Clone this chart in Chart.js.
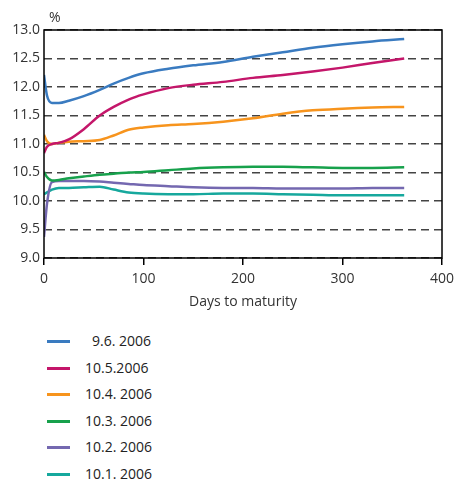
<!DOCTYPE html>
<html>
<head>
<meta charset="utf-8">
<script src="https://cdn.jsdelivr.net/npm/chart.js@4"></script>
<style>
  body { margin: 0; background: #fff; font-family: "Open Sans", sans-serif; }
  #wrap { position: relative; width: 454px; height: 310px; }
  #legend { position: absolute; left: 0; top: 328px; width: 454px; }
  .row { position: relative; height: 26.6px; }
  .row span.sw { position: absolute; left: 47px; top: 12px; width: 23px; height: 3px; }
  .row span.tx { position: absolute; left: 85px; top: 3px; font-size: 14px; color: #222; }
</style>
</head>
<body>
<div id="wrap"><canvas id="chart"></canvas></div>
<div id="legend"></div>
<script>
const days = [0, 3, 8, 15, 25, 40, 56, 70, 85, 100, 125, 150, 180, 210, 240, 270, 300, 330, 362];

const dates = ['9.6. 2006', '10.5.2006', '10.4. 2006', '10.3. 2006', '10.2. 2006', '10.1. 2006'];
const colors = ['#3a7bc0', '#c4166a', '#f7941d', '#17a14c', '#7468b0', '#16a89d'];

const jun = [12.21, 11.85, 11.72, 11.72, 11.76, 11.84, 11.95, 12.06, 12.16, 12.24, 12.32, 12.38, 12.44, 12.53, 12.61, 12.69, 12.75, 12.80, 12.84];
const may = [10.84, 10.95, 11.00, 11.02, 11.08, 11.26, 11.50, 11.65, 11.78, 11.87, 11.98, 12.04, 12.09, 12.16, 12.21, 12.27, 12.34, 12.42, 12.50];
const apr = [11.16, 11.05, 11.00, 11.02, 11.04, 11.05, 11.07, 11.15, 11.25, 11.29, 11.33, 11.35, 11.39, 11.45, 11.53, 11.59, 11.62, 11.64, 11.65];
const mar = [10.51, 10.42, 10.36, 10.37, 10.40, 10.43, 10.46, 10.48, 10.50, 10.51, 10.54, 10.57, 10.59, 10.60, 10.60, 10.59, 10.58, 10.58, 10.59];
const feb = [9.37, 9.95, 10.33, 10.35, 10.35, 10.35, 10.34, 10.32, 10.30, 10.28, 10.26, 10.24, 10.23, 10.23, 10.22, 10.22, 10.22, 10.23, 10.23];
const jan = [10.12, 10.15, 10.20, 10.23, 10.23, 10.24, 10.25, 10.20, 10.15, 10.13, 10.12, 10.12, 10.13, 10.13, 10.12, 10.11, 10.10, 10.10, 10.10];

const series = [jun, may, apr, mar, feb, jan];

// frame round the plot + the % unit label
const framePlugin = {
  id: 'frame',
  afterDraw(chart) {
    const { ctx, chartArea: a } = chart;
    ctx.save();
    ctx.strokeStyle = '#000';
    ctx.lineWidth = 1.5;
    ctx.strokeRect(a.left, a.top, a.right - a.left, a.bottom - a.top);
    ctx.fillStyle = '#333';
    ctx.font = '14px "Open Sans"';
    ctx.textAlign = 'left';
    ctx.textBaseline = 'alphabetic';
    ctx.fillText('%', a.left + 5, a.top - 8);
    ctx.restore();
  }
};

const chart = new Chart(document.getElementById('chart'), {
  type: 'line',
  data: {
    datasets: series.map((vals, i) => ({
      label: dates[i],
      data: vals.map((v, j) => ({ x: days[j], y: v })),
      borderColor: colors[i],
      backgroundColor: colors[i],
      borderWidth: 2.5,
      pointRadius: 0,
      cubicInterpolationMode: 'monotone',
      fill: false
    }))
  },
  options: {
    responsive: true,
    maintainAspectRatio: false,
    animation: false,
    layout: { padding: { top: 30, right: 0, left: 0, bottom: 0 } },
    plugins: {
      legend: { display: false },
      tooltip: { enabled: false }
    },
    scales: {
      x: {
        type: 'linear',
        min: 0,
        max: 400,
        afterFit(scale) { scale.height = 52; scale.paddingRight = 12; },
        ticks: {
          stepSize: 100,
          color: '#333',
          font: { size: 14, family: 'Open Sans' },
          padding: 6,
          maxRotation: 0
        },
        grid: {
          display: true,
          drawOnChartArea: false,
          drawTicks: true,
          tickLength: 7,
          color: '#000',
          lineWidth: 1.5
        },
        border: { display: false },
        title: {
          display: true,
          text: 'Days to maturity',
          color: '#333',
          font: { size: 14, family: 'Open Sans' },
          padding: { top: 0, bottom: 0 }
        }
      },
      y: {
        min: 9,
        max: 13,
        afterFit(scale) { scale.width = 44; },
        ticks: {
          stepSize: 0.5,
          color: '#333',
          font: { size: 14, family: 'Open Sans' },
          padding: 4,
          callback: (v) => v.toFixed(1)
        },
        grid: {
          drawTicks: false,
          color: '#444',
          lineWidth: 1.5
        },
        border: { display: false, dash: [8, 5] }
      }
    }
  },
  plugins: [framePlugin]
});

// legend as a vertical list under the chart
const legend = document.getElementById('legend');
dates.forEach((d, i) => {
  const row = document.createElement('div');
  row.className = 'row';
  const sw = document.createElement('span');
  sw.className = 'sw';
  sw.style.background = colors[i];
  const tx = document.createElement('span');
  tx.className = 'tx';
  tx.textContent = d;
  if (i === 0) tx.style.left = '92px';
  row.appendChild(sw);
  row.appendChild(tx);
  legend.appendChild(row);
});
</script>
</body>
</html>
